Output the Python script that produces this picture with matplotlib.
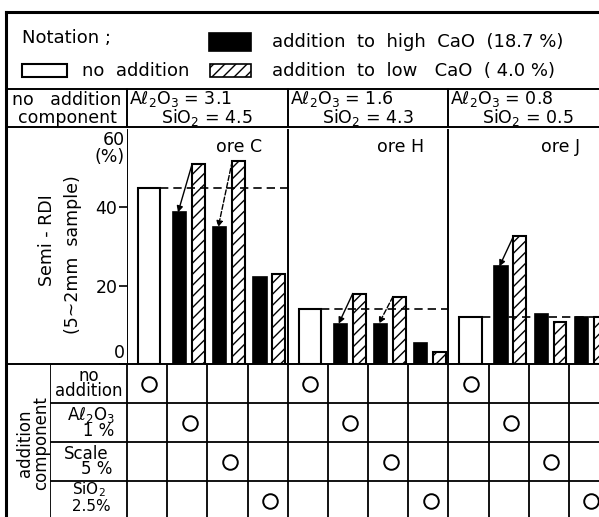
import matplotlib
matplotlib.use("Agg")
import matplotlib.pyplot as plt
from matplotlib.patches import Rectangle

plt.rcParams['font.family'] = ['DejaVu Sans']
plt.rcParams['hatch.linewidth'] = 1.0
plt.rcParams['mathtext.fontset'] = 'dejavusans'

# ---------------- data ----------------
ores = ["ore C", "ore H", "ore J"]
al2o3 = ["3.1", "1.6", "0.8"]
sio2 = ["4.5", "4.3", "0.5"]
no_addition = [44.9, 14.1, 12.0]
high_cao = [[38.7, 34.9, 22.1], [10.3, 10.3, 5.4], [24.9, 12.8, 12.0]]
low_cao = [[51.0, 51.8, 23.0], [18.0, 17.2, 3.1], [32.6, 10.8, 12.0]]
components = ["no addition", "Al2O3 1%", "Scale 5%", "SiO2 2.5%"]
yticks = [0, 20, 40]
# arrows (ore index, component index, dashed?)
arrows = [(0, 0, False), (0, 1, True), (1, 0, False), (1, 1, True), (2, 0, False)]

W, H = 599, 517
fig = plt.figure(figsize=(W / 100, H / 100), dpi=100)

# pixel-layout helpers
def fx(x):
    return x / W

def fy(y):
    return 1 - y / H

SLOT = 40.17
X0 = 127
TOP, BASE = 129, 364

# frame axes (pixel coordinates, for layout lines and texts)
frame = fig.add_axes([0, 0, 1, 1])
frame.set_xlim(0, W)
frame.set_ylim(H, 0)
frame.axis('off')

lw = 1.4
# outer border
frame.plot([6, 6], [12, H], color='k', lw=2.2)
frame.plot([6, W], [12, 12], color='k', lw=2.2)
frame.plot([6, W], [89, 89], color='k', lw=lw)
frame.plot([6, W], [127, 127], color='k', lw=lw)
frame.plot([6, W], [BASE, BASE], color='k', lw=lw)
for k in range(3):
    xx = X0 + 4 * k * SLOT
    frame.plot([xx, xx], [89, 127], color='k', lw=lw)

# legend
frame.text(22, 38, "Notation ;", fontsize=13, va='center', ha='left')
frame.add_patch(Rectangle((209, 33), 42, 18, facecolor='k', edgecolor='k', lw=1.2))
frame.text(272, 42, "addition  to  high  CaO  (18.7 %)", fontsize=13, va='center', ha='left')
frame.add_patch(Rectangle((22, 64), 45, 13, facecolor='white', edgecolor='k', lw=1.5))
frame.text(82, 71, "no  addition", fontsize=13, va='center', ha='left')
frame.add_patch(Rectangle((210, 64), 41, 13, facecolor='white', edgecolor='k', lw=1.2, hatch='///'))
frame.text(272, 71, "addition  to  low   CaO  ( 4.0 %)", fontsize=13, va='center', ha='left')

# header
frame.text(12, 100, "no   addition", fontsize=12.5, va='center', ha='left')
frame.text(67, 118, "component", fontsize=12.5, va='center', ha='center')
for k in range(3):
    xx = X0 + 4 * k * SLOT
    frame.text(xx + 2, 99, r"A$\ell_2$O$_3$ = " + al2o3[k], fontsize=12.5, va='center', ha='left')
    frame.text(xx + 34, 117, r"SiO$_2$ = " + sio2[k], fontsize=12.5, va='center', ha='left')

# y-axis titles
frame.text(47, 240, "Semi - RDI", fontsize=12.5, rotation=90, va='center', ha='center')
frame.text(73, 255, "(5~2mm  sample)", fontsize=12.5, rotation=90, va='center', ha='center')

# ---------------- bar axes ----------------
ax = fig.add_axes([fx(X0), fy(BASE), fx(12 * SLOT), (BASE - TOP) / H])
ax.set_xlim(0, 12)
ax.set_ylim(0, 60)
for s in ax.spines.values():
    s.set_visible(False)
ax.patch.set_alpha(0)
ax.axvline(0, color='k', lw=lw)
ax.axvline(4, color='k', lw=lw)
ax.axvline(8, color='k', lw=lw)
ax.set_xticks([])
ax.set_yticks(yticks)
ax.set_yticklabels(['' if t == 0 else str(t) for t in yticks], fontsize=12.5)
ax.tick_params(axis='y', direction='out', length=6, width=1.2, pad=1)
ax.text(-0.05, 0.4, "0", fontsize=12.5, ha='right', va='bottom')
ax.text(-0.05, 59.5, "60\n(%)", fontsize=12.5, ha='right', va='top', linespacing=0.9)

for i in range(3):
    base = 4 * i
    ax.bar(base + 0.55, no_addition[i], width=0.55, facecolor='white', edgecolor='k', lw=1.5)
    for j in range(3):
        slot = base + 1 + j
        ax.bar(slot + 0.31, high_cao[i][j], width=0.33, facecolor='k', edgecolor='k', lw=1.2)
        ax.bar(slot + 0.78, low_cao[i][j], width=0.32, facecolor='white', edgecolor='k',
               lw=1.5, hatch='///')
    ax.plot([base + 0.83, base + 4], [no_addition[i]] * 2, color='k', lw=1.2,
            dashes=(5, 3))
    ax.text(base + 2.8, 55.3, ores[i], fontsize=12.5, ha='center', va='center')

for (i, j, dashed) in arrows:
    slot = 4 * i + 1 + j
    ax.annotate("", xy=(slot + 0.27, high_cao[i][j]), xytext=(slot + 0.62, low_cao[i][j]),
                arrowprops=dict(arrowstyle='-|>', color='k', lw=1.0, mutation_scale=9,
                                shrinkA=0, shrinkB=0,
                                linestyle='--' if dashed else '-'))

# ---------------- table axes ----------------
LAB = 50
ROW = 39
tab = fig.add_axes([fx(LAB), 0, fx(X0 + 12 * SLOT - LAB), (H - BASE) / H])
tab.set_xlim(-(X0 - LAB) / SLOT, 12)
tab.set_ylim((H - BASE) / ROW, 0)
tab.axis('off')
for k in range(13):
    tab.axvline(k, color='k', lw=1.3)
tab.axvline(-(X0 - LAB) / SLOT + 0.005, color='k', lw=1.3)
for r in range(1, 4):
    tab.axhline(r, color='k', lw=1.3)

for r in range(4):
    xs = [4 * i + r + 0.56 for i in range(3)]
    tab.scatter(xs, [r + 0.5] * 3, s=110, facecolor='white', edgecolor='k', lw=1.4, zorder=3)

cx = -(X0 - LAB) / SLOT / 2
tab.text(cx, 0.5, "no\naddition", fontsize=12, ha='center', va='center', linespacing=0.85)
tab.text(cx + 0.05, 1.5, "A$\\ell_2$O$_3$\n   1 %", fontsize=12, ha='center', va='center', linespacing=0.85)
tab.text(cx - 0.05, 2.5, "Scale\n    5 %", fontsize=12, ha='center', va='center', linespacing=0.85)
tab.text(cx, 3.42, "SiO$_2$\n 2.5%", fontsize=11, ha='center', va='center', linespacing=1.0)

frame.text(33, 443, "addition\ncomponent", fontsize=12, rotation=90, ha='center', va='center',
           linespacing=0.85)

fig.savefig("out.png", dpi=100)
